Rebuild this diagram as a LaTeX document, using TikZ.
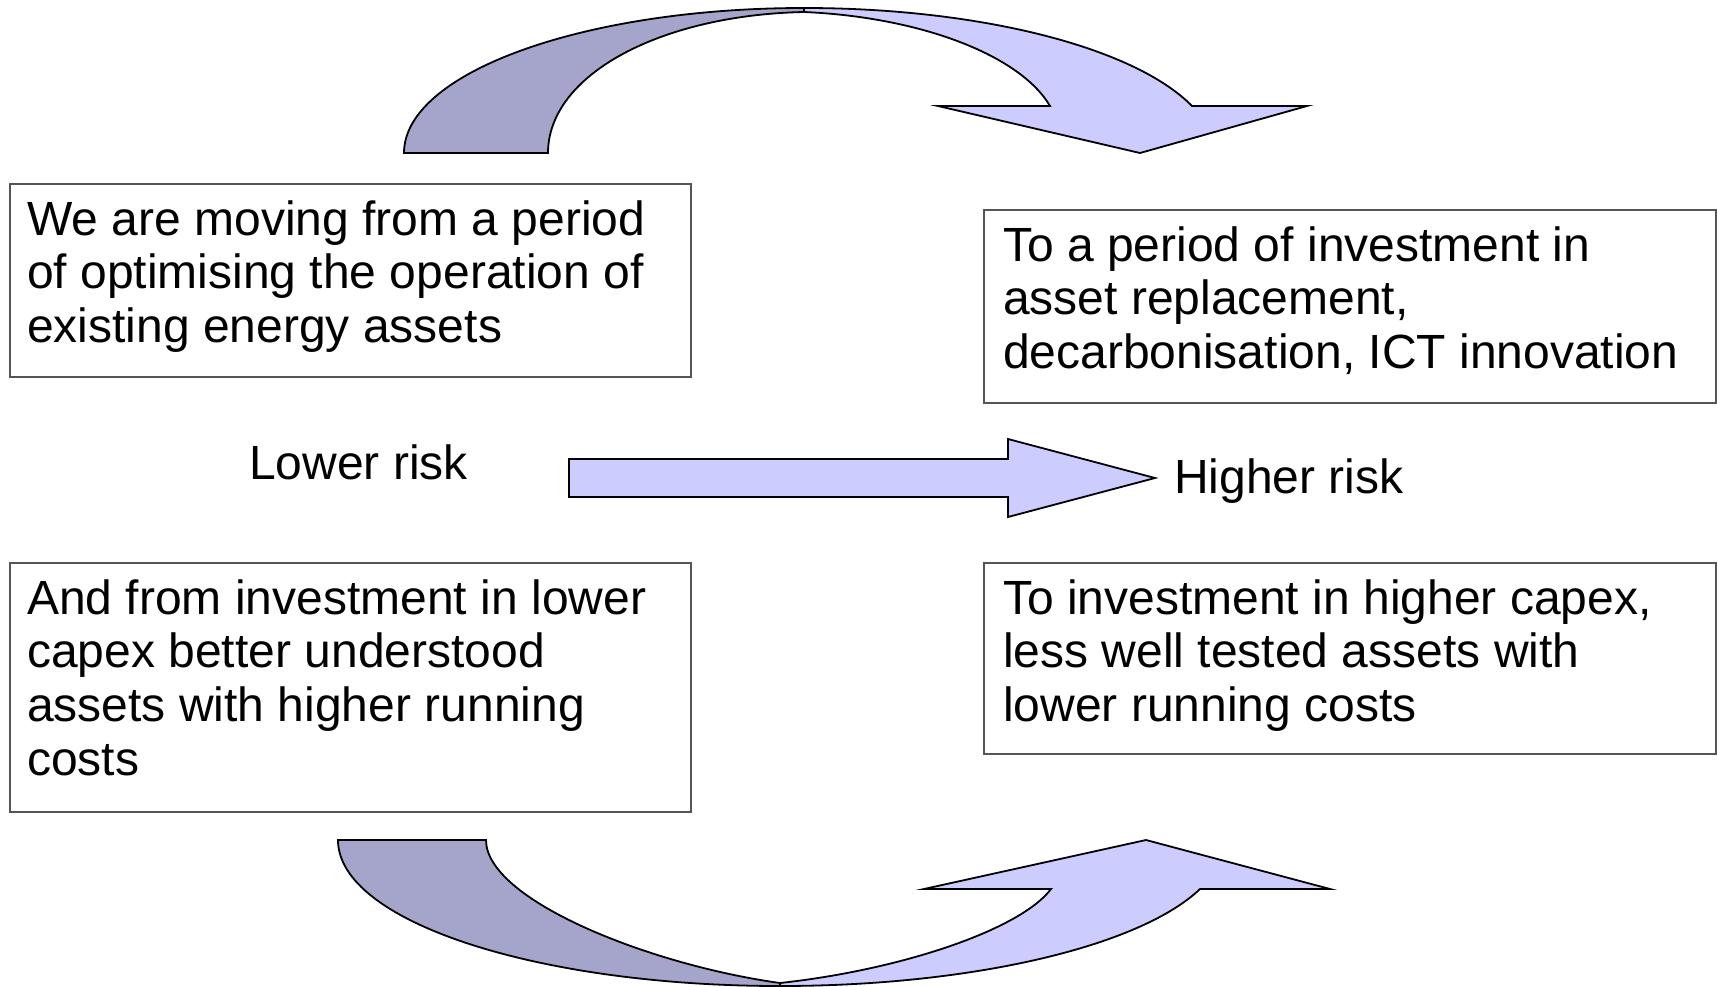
\documentclass[tikz,border=0pt]{standalone}
\usepackage{fontspec}
\setmainfont{Liberation Sans}
\definecolor{backband}{HTML}{A5A5CC}
\definecolor{frontband}{HTML}{CCCCFF}
\definecolor{boxline}{HTML}{555555}

\begin{document}
\begin{tikzpicture}[x=1bp,y=-1bp,
  band/.style={draw=black,line width=1.8bp,line join=miter},
  backpart/.style={band,fill=backband},
  frontpart/.style={band,fill=frontband},
  textbox/.style={draw=boxline,line width=1.5bp,anchor=north west,inner sep=0pt},
  boxtext/.style={anchor=base west,inner sep=0pt,font=\fontsize{48bp}{53.7bp}\selectfont},
  ]
\useasboundingbox (0,0) rectangle (1717,986);
\fill[white] (0,0) rectangle (1717,986);

% upper curved arrow: rear half, then front half with the head
\draw[backpart] (404,153) -- (548,153)
  .. controls (548,75) and (660,15) .. (804,12) -- (804,8)
  .. controls (583,8) and (404,73) .. (404,153) -- cycle;
\draw[frontpart] (804,12)
  .. controls (920,17) and (1020,55) .. (1050,106)
  -- (938,106) -- (1140,153) -- (1307,106) -- (1192,106)
  .. controls (1134,47) and (979,8) .. (804,8) -- cycle;

% lower curved arrow
\draw[backpart] (338,840) -- (486,840)
  .. controls (486,900) and (650,965) .. (780,983) -- (780,986)
  .. controls (536,986) and (338,921) .. (338,840) -- cycle;
\draw[frontpart] (780,983)
  .. controls (900,970) and (1020,930) .. (1051,889)
  -- (924,889) -- (1146,840) -- (1330,889) -- (1200,889)
  .. controls (1139,947) and (970,986) .. (780,986) -- cycle;

% straight block arrow between the risk labels
\draw[frontpart] (569,459) -- (1008,459) -- (1008,439) -- (1155,478)
  -- (1008,517) -- (1008,497) -- (569,497) -- cycle;

% text boxes
\node[textbox, minimum width=681bp, minimum height=193bp] (b1) at (9,183) {};
\node[textbox, minimum width=732bp, minimum height=193bp] (b2) at (983,209) {};
\node[textbox, minimum width=681bp, minimum height=249bp] (b3) at (9,562) {};
\node[textbox, minimum width=732bp, minimum height=191bp] (b4) at (983,562) {};

\node[boxtext] (t1) at (27,235) {\begin{tabular}[t]{@{}l@{}}We are moving from a period\\of optimising the operation of\\existing energy assets\end{tabular}};
\node[boxtext] (t2) at (1003,261) {\begin{tabular}[t]{@{}l@{}}To a period of investment in\\asset replacement,\\decarbonisation, ICT innovation\end{tabular}};
\node[boxtext] (t3) at (27,614) {\begin{tabular}[t]{@{}l@{}}And from investment in lower\\capex better understood\\assets with higher running\\costs\end{tabular}};
\node[boxtext] (t4) at (1003,614) {\begin{tabular}[t]{@{}l@{}}To investment in higher capex,\\less well tested assets with\\lower running costs\end{tabular}};

\node[boxtext] (low) at (249,479) {Lower risk};
\node[boxtext] (high) at (1174,493) {Higher risk};
\end{tikzpicture}
\end{document}
